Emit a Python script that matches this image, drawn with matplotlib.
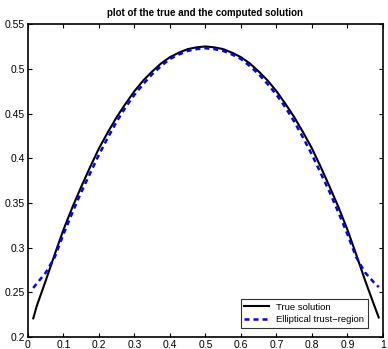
import matplotlib
matplotlib.use("Agg")
import matplotlib.pyplot as plt

# values
x_vals = [0.015, 0.025, 0.05, 0.075, 0.1, 0.125, 0.15, 0.175, 0.2, 0.225, 0.25,
          0.275, 0.3, 0.325, 0.35, 0.375, 0.4, 0.425, 0.45, 0.475, 0.5,
          0.525, 0.55, 0.575, 0.6, 0.625, 0.65, 0.675, 0.7, 0.725, 0.75,
          0.775, 0.8, 0.825, 0.85, 0.875, 0.9, 0.925, 0.95, 0.975, 0.988]
true_vals = [0.221, 0.235, 0.263, 0.292, 0.320, 0.345, 0.368, 0.390, 0.411, 0.429, 0.446,
             0.461, 0.475, 0.487, 0.497, 0.506, 0.513, 0.518, 0.522, 0.524, 0.525,
             0.524, 0.522, 0.518, 0.513, 0.506, 0.497, 0.487, 0.475, 0.461, 0.446,
             0.429, 0.411, 0.390, 0.368, 0.345, 0.320, 0.292, 0.263, 0.236, 0.222]
trust_vals = [0.255, 0.260, 0.272, 0.289, 0.315, 0.339, 0.362, 0.383, 0.404, 0.423, 0.441,
              0.457, 0.471, 0.483, 0.494, 0.503, 0.511, 0.516, 0.520, 0.522, 0.523,
              0.522, 0.520, 0.516, 0.511, 0.503, 0.494, 0.483, 0.471, 0.457, 0.441,
              0.423, 0.404, 0.383, 0.362, 0.339, 0.315, 0.289, 0.272, 0.261, 0.256]
x_ticks = [0, 0.1, 0.2, 0.3, 0.4, 0.5, 0.6, 0.7, 0.8, 0.9, 1]
x_labels = ["0", "0.1", "0.2", "0.3", "0.4", "0.5", "0.6", "0.7", "0.8", "0.9", "1"]
y_ticks = [0.2, 0.25, 0.3, 0.35, 0.4, 0.45, 0.5, 0.55]
y_labels = ["0.2", "0.25", "0.3", "0.35", "0.4", "0.45", "0.5", "0.55"]

plt.rcParams['font.family'] = ['Liberation Sans', 'DejaVu Sans']
plt.rcParams['font.size'] = 7.5

fig = plt.figure(figsize=(3.88, 3.49), dpi=100)
ax = fig.add_axes([0.072, 0.034, 0.915, 0.897])

ax.plot(x_vals, true_vals, color='black', lw=1.5, label='True solution')
ax.plot(x_vals, trust_vals, color='blue', lw=1.8, ls=(0, (2, 1.6)), label='Elliptical trust\u2212region')

ax.set_xlim(0, 1)
ax.set_ylim(0.2, 0.55)
ax.set_xticks(x_ticks)
ax.set_xticklabels(x_labels)
ax.set_yticks(y_ticks)
ax.set_yticklabels(y_labels)
ax.tick_params(direction='in', top=True, right=True, length=3, width=0.8, pad=2, labelsize=7.5)
for s in ax.spines.values():
    s.set_linewidth(1.2)

ax.set_title('plot of the true and the computed solution', fontsize=7, fontweight='bold', pad=6)

leg = ax.legend(loc='lower right', fancybox=False, edgecolor='black', fontsize=6.8,
                handlelength=2.6, borderpad=0.4, labelspacing=0.35, borderaxespad=1.0,
                bbox_to_anchor=(0.985, 0.0))
leg.get_frame().set_linewidth(0.8)

fig.savefig('out.png', dpi=100)
